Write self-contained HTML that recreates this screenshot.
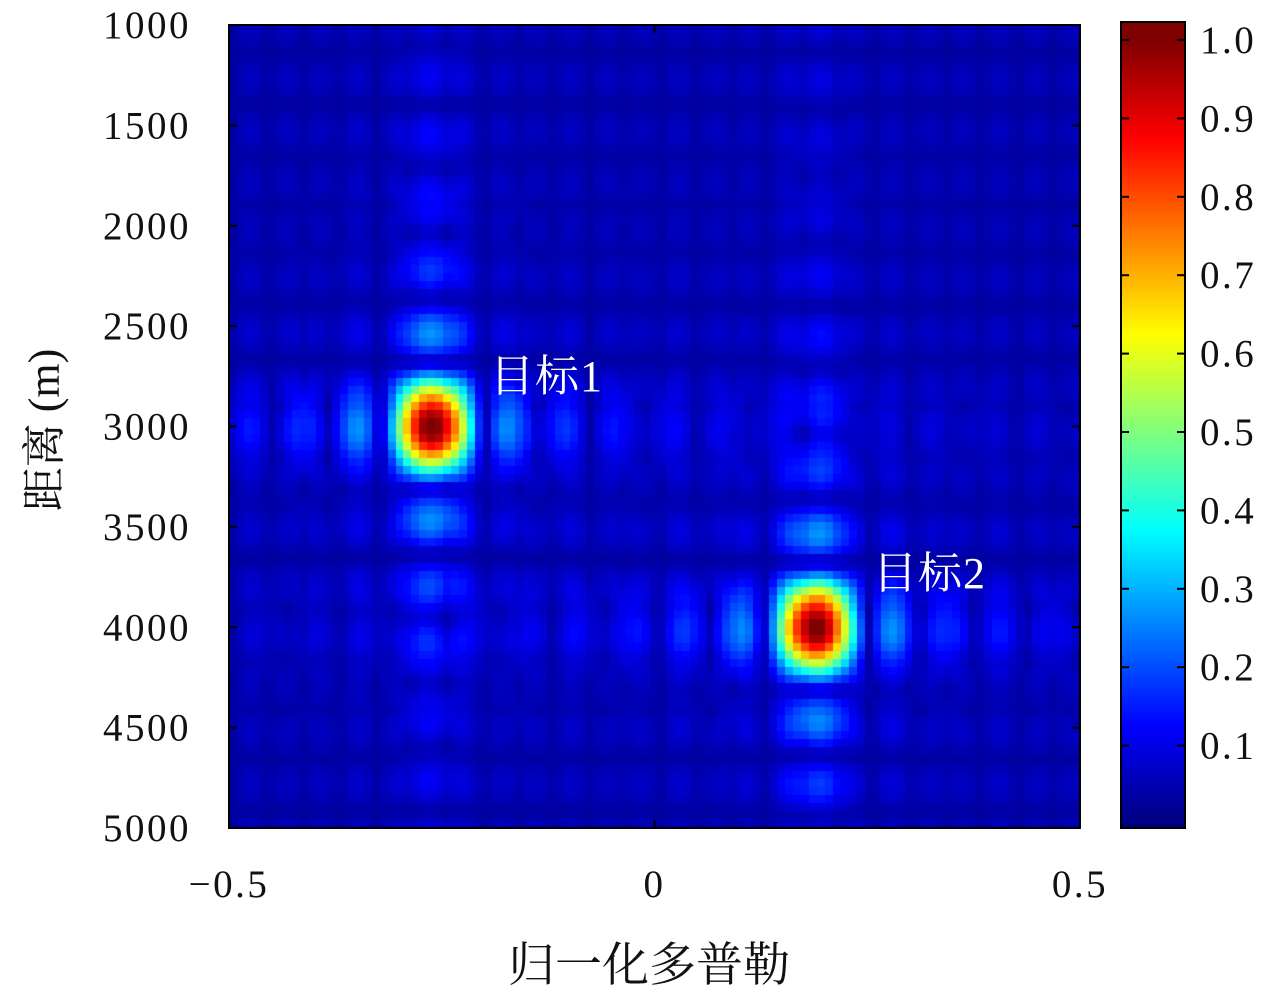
<!DOCTYPE html>
<html><head><meta charset="utf-8"><style>
body{margin:0;background:#fff;width:1280px;height:982px;overflow:hidden;position:relative;font-family:"Liberation Serif","Noto Serif CJK SC",serif}
.t{position:absolute;font-size:38px;color:#111;white-space:nowrap}
</style></head><body>
<canvas id="hm" width="851" height="803" style="position:absolute;left:229px;top:25px"></canvas>
<canvas id="cb" width="64" height="806" style="position:absolute;left:1121px;top:22px"></canvas>
<svg id="ov" width="1280" height="982" style="position:absolute;left:0;top:0"></svg>
<div class="t" style="left:508px;top:928px;font-family:'Noto Serif CJK SC',serif;font-size:47px">归一化多普勒</div>
<div class="t" style="left:-60px;top:398px;width:200px;text-align:center;transform:rotate(-90deg);font-family:'Liberation Serif','Noto Serif CJK SC',serif;font-size:44px">距离 (m)</div>
<div class="t" style="left:490px;top:340px;color:#fff;font-family:'Liberation Serif','Noto Serif CJK SC',serif;font-size:44px;letter-spacing:1px">目标1</div>
<div class="t" style="left:873px;top:537px;color:#fff;font-family:'Liberation Serif','Noto Serif CJK SC',serif;font-size:44px;letter-spacing:1px">目标2</div>
<script>
const targetDoppler=[-0.26,0.19];
const targetRange=[3000,4000];
const targetAmp=[1.0,1.0];
const xTicks=[-0.5,0,0.5];
const xTickLabels=["−0.5","0","0.5"];
const yTicks=[1000,1500,2000,2500,3000,3500,4000,4500,5000];
const cbTicks=[0.1,0.2,0.3,0.4,0.5,0.6,0.7,0.8,0.9,1.0];
const PX0=229,PX1=1080,PY0=25,PY1=828;
const xs=v=>PX0+(v+0.5)/1*(PX1-PX0);
const ys=v=>PY0+(v-1000)/4000*(PY1-PY0);
const cbs=v=>824-(v-0)*784;
function jet(v){v=Math.max(0,Math.min(1,v));
 const r=Math.max(0,Math.min(1,1.5-Math.abs(4*v-3))),g=Math.max(0,Math.min(1,1.5-Math.abs(4*v-2))),b=Math.max(0,Math.min(1,1.5-Math.abs(4*v-1)));
 return [r*255|0,g*255|0,b*255|0];}
function sinc(x){return x===0?1:Math.sin(Math.PI*x)/(Math.PI*x);}
const hm=document.getElementById('hm'),c=hm.getContext('2d');
const NC=107,NR=100;
for(let i=0;i<NC;i++)for(let j=0;j<NR;j++){
 const d=-0.5+(i+0.5)/NC,r=1000+(j+0.5)/NR*4000;
 let v=0;
 for(let k=0;k<targetDoppler.length;k++){
  const a=sinc((d-targetDoppler[k])/0.062),b=sinc((r-targetRange[k])/320);
  v+=targetAmp[k]*Math.abs(a*b);
 }
 v=0.03+Math.min(1,v)*0.97+0.03*Math.abs(Math.sin(i*0.7)*Math.cos(j*0.5));
 const [R,G,B]=jet(v);c.fillStyle=`rgb(${R},${G},${B})`;
 const x0=Math.floor(i*851/NC),x1=Math.floor((i+1)*851/NC),y0=Math.floor(j*803/NR),y1=Math.floor((j+1)*803/NR);
 c.fillRect(x0,y0,x1-x0+1,y1-y0+1);
}
const cb=document.getElementById('cb'),cc=cb.getContext('2d');
for(let y=0;y<806;y++){const v=(824-(y+22))/784;const [R,G,B]=jet(v);cc.fillStyle=`rgb(${R},${G},${B})`;cc.fillRect(0,y,64,1);}
const ov=document.getElementById('ov'),NS='http://www.w3.org/2000/svg';
function mk(t,a){const e=document.createElementNS(NS,t);for(const k in a)e.setAttribute(k,a[k]);ov.appendChild(e);return e;}
let e=mk('rect',{x:PX0,y:PY0,width:PX1-PX0,height:PY1-PY0,fill:'none',stroke:'#000','stroke-width':2});


e=mk('rect',{x:1121,y:22,width:64,height:806,fill:'none',stroke:'#000','stroke-width':2});


const TS='font-family:Liberation Serif, serif;letter-spacing:2.5px';
xTicks.forEach((v,i)=>{const x=xs(v);
 mk('line',{x1:x,x2:x,y1:PY1,y2:PY1-8,stroke:'#000','stroke-width':2});
 mk('line',{x1:x,x2:x,y1:PY0,y2:PY0+8,stroke:'#000','stroke-width':2});
 const t=mk('text',{x:x,y:897,'text-anchor':'middle','font-size':39,style:TS,fill:'#111'});t.textContent=xTickLabels[i];
 
 
});
yTicks.forEach(v=>{const y=ys(v);
 mk('line',{x1:PX0,x2:PX0+8,y1:y,y2:y,stroke:'#000','stroke-width':2});
 mk('line',{x1:PX1,x2:PX1-8,y1:y,y2:y,stroke:'#000','stroke-width':2});
 const t=mk('text',{x:191,y:y+13,'text-anchor':'end','font-size':39,style:TS,fill:'#111'});t.textContent=v;
 
 
});
cbTicks.forEach(v=>{const y=cbs(v);
 mk('line',{x1:1121,x2:1129,y1:y,y2:y,stroke:'#000','stroke-width':2});
 mk('line',{x1:1185,x2:1177,y1:y,y2:y,stroke:'#000','stroke-width':2});
 const t=mk('text',{x:1200,y:y+13,'font-size':39,style:TS,fill:'#111'});t.textContent=v.toFixed(1);
 
 
});
</script>
</body></html>
